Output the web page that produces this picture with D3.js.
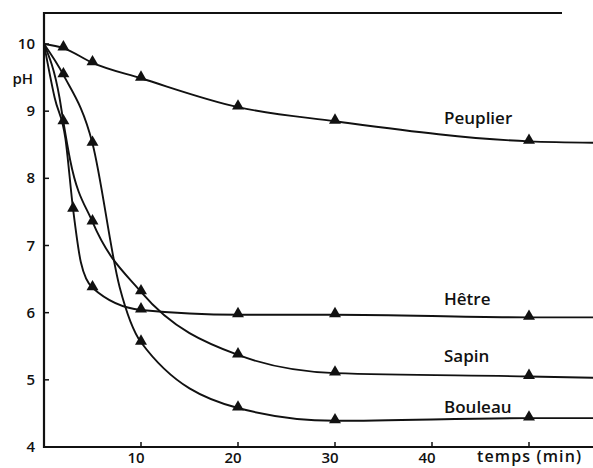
<!DOCTYPE html>
<html>
<head>
<meta charset="utf-8">
<script src="https://cdn.jsdelivr.net/npm/d3@7"></script>
<style>
  body { margin: 0; background: #fff; }
  text { font-family: "Open Sans", sans-serif; fill: #111; }
</style>
</head>
<body>
<svg id="viz"></svg>
<script>
// chart size is fixed to the reference picture
const width = 593, height = 468;

// measured points (triangles) for each wood, temps in min
const peuplierTemps = [2, 5, 10, 20, 30, 50];
const peuplierPH    = [9.94, 9.72, 9.49, 9.06, 8.85, 8.55];
const hetreTemps    = [3, 5, 10, 20, 30, 50];
const hetrePH       = [7.54, 6.37, 6.04, 5.97, 5.97, 5.93];
const sapinTemps    = [2, 5, 10, 20, 30, 50];
const sapinPH       = [8.84, 7.35, 6.31, 5.37, 5.1, 5.05];
const bouleauTemps  = [2, 5, 10, 20, 30, 50];
const bouleauPH     = [9.54, 8.52, 5.56, 4.58, 4.39, 4.43];

// extra points (no triangle there)
const peuplierTrace = [[0, 10], [56.6, 8.53]];
const hetreTrace    = [[0, 10], [1.1, 9.2], [2.2, 8.6], [3.8, 6.75], [56.6, 5.93]];
const sapinTrace    = [[0, 10], [1.6, 9.2], [2.7, 8.27], [56.6, 5.03]];
const bouleauTrace  = [[0, 10], [7.8, 6.38], [56.6, 4.43]];

const labels = ["Peuplier", "Hêtre", "Sapin", "Bouleau"];

const xTicks = [10, 20, 30, 40, 50];
const xTickLabels = ["10", "20", "30", "40", ""];
const yTicks = [4, 5, 6, 7, 8, 9, 10];

// build series
const series = [
  {name: labels[0], t: peuplierTemps, ph: peuplierPH, trace: peuplierTrace, ly: 8.9},
  {name: labels[1], t: hetreTemps, ph: hetrePH, trace: hetreTrace, ly: 6.2},
  {name: labels[2], t: sapinTemps, ph: sapinPH, trace: sapinTrace, ly: 5.35},
  {name: labels[3], t: bouleauTemps, ph: bouleauPH, trace: bouleauTrace, ly: 4.6}
];

const svg = d3.select("#viz")
  .attr("width", width)
  .attr("height", height);

const x = d3.scaleLinear().domain([0, 50]).range([44, 529]);
const y = d3.scaleLinear().domain([4, 10]).range([447, 44]);

// frame: left axis and top line
svg.append("line")
  .attr("x1", 44).attr("x2", 562)
  .attr("y1", 13).attr("y2", 13)
  .attr("stroke", "#111").attr("stroke-width", 2.2);

svg.append("line")
  .attr("x1", 44).attr("x2", 44)
  .attr("y1", 12).attr("y2", 448)
  .attr("stroke", "#111").attr("stroke-width", 2.2);

svg.append("line")
  .attr("x1", 43).attr("x2", 593)
  .attr("y1", 447).attr("y2", 447)
  .attr("stroke", "#111").attr("stroke-width", 2.2);

// y ticks, pointing inward
svg.selectAll(".ytick")
  .data(yTicks.filter(d => d > 4))
  .enter().append("line")
  .attr("x1", 44).attr("x2", 49)
  .attr("y1", d => y(d)).attr("y2", d => y(d))
  .attr("stroke", "#111").attr("stroke-width", 1.5);

svg.selectAll(".ylab")
  .data(yTicks)
  .enter().append("text")
  .attr("x", 35)
  .attr("y", d => y(d) + 5)
  .attr("text-anchor", "end")
  .attr("font-size", 15)
  .attr("font-weight", 600)
  .text(d => d);

svg.append("text")
  .attr("x", 33).attr("y", 84)
  .attr("text-anchor", "end")
  .attr("font-size", 15)
  .attr("font-weight", 600)
  .text("pH");

// x ticks, pointing up
svg.selectAll(".xtick")
  .data(xTicks)
  .enter().append("line")
  .attr("x1", d => x(d)).attr("x2", d => x(d))
  .attr("y1", 447).attr("y2", 442)
  .attr("stroke", "#111").attr("stroke-width", 1.5);

svg.selectAll(".xlab")
  .data(xTicks)
  .enter().append("text")
  .attr("x", d => x(d) - 5)
  .attr("y", 463)
  .attr("text-anchor", "middle")
  .attr("font-size", 15)
  .attr("font-weight", 600)
  .text((d, i) => xTickLabels[i]);

svg.append("text")
  .attr("x", 581).attr("y", 462)
  .attr("text-anchor", "end")
  .attr("font-size", 16)
  .attr("font-weight", 600)
  .attr("textLength", 104)
  .text("temps (min)");

// curves
const line = d3.line()
  .x(d => x(d[0]))
  .y(d => y(d[1]))
  .curve(d3.curveMonotoneX);

series.forEach(s => {
  const pts = s.t.map((t, i) => [t, s.ph[i]])
    .concat(s.trace)
    .sort((a, b) => a[0] - b[0]);

  svg.append("path")
    .attr("d", line(pts))
    .attr("fill", "none")
    .attr("stroke", "#111")
    .attr("stroke-width", 1.9);

  svg.selectAll(null)
    .data(s.t.map((t, i) => [t, s.ph[i]]))
    .enter().append("path")
    .attr("d", d3.symbol().type(d3.symbolTriangle).size(62))
    .attr("transform", d => "translate(" + x(d[0]) + "," + (y(d[1]) - 1) + ")")
    .attr("fill", "#111");

  svg.append("text")
    .attr("x", 444)
    .attr("y", y(s.ly) + 6)
    .attr("font-size", 17)
    .attr("font-weight", 600)
    .text(s.name);
});
</script>
</body>
</html>
